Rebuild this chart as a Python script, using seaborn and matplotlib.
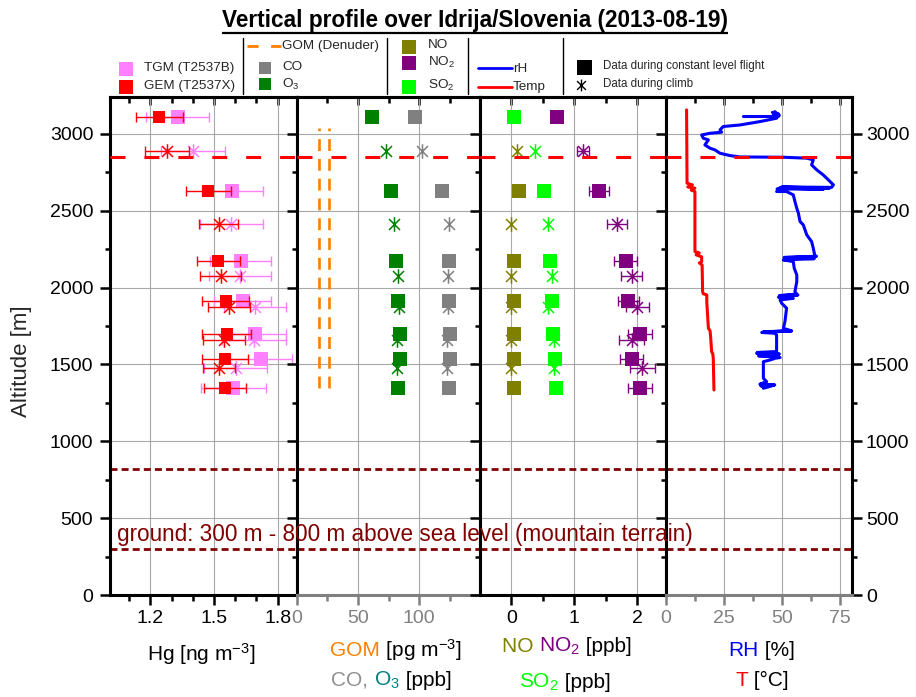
import numpy as np
import pandas as pd
import matplotlib
matplotlib.use("Agg")
import matplotlib.pyplot as plt
import seaborn as sns
from matplotlib.ticker import MultipleLocator
from matplotlib.path import Path

sns.set_theme(style="white")
plt.rcParams["font.family"] = ["Liberation Sans", "DejaVu Sans"]
plt.rcParams["mathtext.fontset"] = "custom"
plt.rcParams["mathtext.rm"] = "Liberation Sans"
plt.rcParams["mathtext.it"] = "Liberation Sans:italic"
plt.rcParams["mathtext.bf"] = "Liberation Sans:bold"

# ---------------- data ----------------
level_alt = [3108, 2631, 2173, 1915, 1696, 1536, 1349]
climb_alt = [2889, 2412, 2076, 1872, 1662, 1478]

tgm_level = [1.329, 1.587, 1.626, 1.635, 1.694, 1.721, 1.591]
tgm_level_err = [0.148, 0.144, 0.145, 0.136, 0.145, 0.145, 0.154]
gem_level = [1.243, 1.473, 1.520, 1.555, 1.560, 1.553, 1.553]
gem_level_err = [0.111, 0.107, 0.102, 0.110, 0.115, 0.108, 0.100]
tgm_climb = [1.402, 1.582, 1.623, 1.692, 1.689, 1.602]
tgm_climb_err = [0.150, 0.149, 0.148, 0.147, 0.150, 0.150]
gem_climb = [1.279, 1.523, 1.531, 1.571, 1.547, 1.523]
gem_climb_err = [0.104, 0.092, 0.098, 0.100, 0.100, 0.075]

gom_values = [18.0, 26.6]
gom_alt = [1350, 3040]
o3_level = [61.1, 77.3, 81.3, 82.9, 84.0, 84.0, 82.9]
co_level = [96.5, 118.3, 124.1, 124.1, 124.9, 124.9, 124.1]
o3_climb = [72.6, 79.2, 82.4, 83.2, 81.8, 81.6]
co_climb = [102.3, 124.4, 123.0, 123.6, 122.8, 122.3]

no_level = [np.nan, 0.116, 0.048, 0.048, 0.048, 0.048, 0.048]
no2_level = [0.727, 1.388, 1.812, 1.855, 2.04, 1.908, 2.04]
no2_level_err = [np.nan, 0.16, 0.18, 0.17, 0.19, 0.18, 0.19]
so2_level = [0.037, 0.514, 0.609, 0.636, 0.657, 0.684, 0.700]
no_climb = [0.09, 0.0, 0.0, 0.0, 0.0, 0.0]
no2_climb = [1.139, 1.68, 1.908, 1.998, 1.908, 2.077]
no2_climb_err = [0.10, 0.16, 0.17, 0.18, 0.20, 0.20]
so2_climb = [0.366, 0.583, 0.636, 0.577, 0.678, 0.678]

temp_alt = [3156, 2679, 2668, 2655, 2647, 2634, 2625, 2234, 2225, 2213, 2200, 2169,
            2160, 2147, 1974, 1960, 1952, 1909, 1735, 1720, 1692, 1583, 1570, 1540, 1334]
temp_val = [9.0, 9.2, 11.5, 9.5, 12.6, 11.0, 12.6, 12.6, 14.5, 13.1, 15.5, 15.5,
            14.5, 15.7, 15.9, 16.2, 17.7, 17.7, 18.4, 19.1, 19.3, 19.8, 20.3, 20.5, 20.8]

rh_alt = [3113, 3113, 3140, 3120, 3145, 3105, 3130, 3102, 3080, 3058, 3048, 3026, 3011,
          3004, 2993, 2972, 2961, 2928, 2907, 2896, 2874, 2859, 2850, 2848, 2842, 2831,
          2798, 2766, 2733, 2701, 2668, 2652, 2655, 2646, 2648, 2640, 2642, 2635, 2625,
          2625, 2603, 2560, 2516, 2484, 2430, 2408, 2343, 2299, 2256, 2200, 2196, 2204,
          2192, 2188, 2180, 2169, 2126, 2082, 2039, 1974, 1958, 1948, 1952, 1938, 1930,
          1920, 1898, 1866, 1779, 1735, 1720, 1712, 1718, 1708, 1703, 1692, 1584, 1578,
          1568, 1573, 1560, 1556, 1545, 1540, 1529, 1518, 1410, 1388, 1372, 1367, 1360,
          1364, 1345]
rh_val = [33.5, 48.6, 46.0, 49.0, 47.0, 46.0, 48.5, 47.8, 40.6, 32.0, 24.8, 23.4, 24.1,
          19.1, 15.5, 16.2, 18.4, 16.9, 19.1, 21.2, 23.4, 27.7, 32.0, 50.7, 60.8, 63.6,
          62.9, 65.1, 67.9, 70.1, 72.3, 71.5, 50.0, 70.5, 49.0, 68.0, 48.0, 49.3, 47.8,
          52.1, 55.0, 55.7, 56.5, 57.2, 57.9, 59.3, 60.8, 62.9, 63.6, 64.4, 51.0, 65.0,
          52.0, 64.0, 50.7, 55.0, 55.4, 56.5, 56.5, 55.7, 56.5, 49.0, 57.0, 48.6, 55.0,
          49.3, 50.0, 52.1, 51.4, 50.7, 54.0, 42.0, 54.3, 41.4, 47.0, 47.8, 47.8, 39.5,
          49.0, 39.2, 48.5, 40.0, 49.3, 47.1, 45.0, 42.1, 42.1, 43.5, 40.6, 47.0, 41.0,
          46.5, 42.1]

inversion_alt = 2850
ground_alt = [300, 820]

x_labels_p1 = [1.2, 1.5, 1.8]
# --------------------------------------

C_TGM = "#FF80FF"
C_GEM = "#FF0000"
C_CO = "#808080"
C_O3 = "#008000"
C_GOM = "#FF8000"
C_NO = "#808000"
C_NO2 = "#800080"
C_SO2 = "#00FF00"
C_RH = "#0000FF"
C_T = "#FF0000"
C_GROUND = "#800000"

# asterisk marker: vertical stroke plus an X
STAR = Path([(0, -1), (0, 1), (-0.75, -0.75), (0.75, 0.75), (-0.75, 0.75), (0.75, -0.75)],
            [Path.MOVETO, Path.LINETO, Path.MOVETO, Path.LINETO, Path.MOVETO, Path.LINETO])

W, H = 916, 697
fig = plt.figure(figsize=(W / 100, H / 100), dpi=100)


def px_axes(x0, x1, y0=97, y1=595):
    return fig.add_axes([x0 / W, 1 - y1 / H, (x1 - x0) / W, (y1 - y0) / H])


def style(ax, xlim, major, minor, fmt, bottomcolor="black"):
    ax.set_xlim(xlim)
    ax.set_ylim(0, 3240)
    ax.set_xticks(major)
    ax.set_xticklabels([fmt(v) for v in major])
    ax.set_xticks(minor, minor=True)
    ax.yaxis.set_major_locator(MultipleLocator(500))
    ax.yaxis.set_minor_locator(MultipleLocator(250))
    for s in ax.spines.values():
        s.set_visible(True)
        s.set_linewidth(2.2)
        s.set_color("black")
    ax.spines["bottom"].set_color(bottomcolor)
    ax.tick_params(axis="x", which="both", direction="out", bottom=True, top=False,
                   colors=bottomcolor, labelsize=14, width=1.8, pad=4)
    ax.tick_params(axis="x", which="major", length=7)
    ax.tick_params(axis="x", which="minor", length=4)
    ax.tick_params(axis="y", which="both", direction="out", left=True, right=True,
                   labelleft=False, labelright=False, width=1.8, colors="black",
                   labelsize=14)
    ax.tick_params(axis="y", which="major", length=7)
    ax.tick_params(axis="y", which="minor", length=3.6)
    ax.grid(True, which="major", color="#A8A8A8", lw=0.8)
    ax.set_axisbelow(True)
    top = ax.secondary_xaxis("top")
    top.set_xticks(major)
    top.set_xticks(minor, minor=True)
    top.tick_params(axis="x", which="both", direction="in", labeltop=False,
                    width=1.8, colors="black")
    top.tick_params(axis="x", which="major", length=6)
    top.tick_params(axis="x", which="minor", length=4)
    top.spines["top"].set_linewidth(2.2)
    ax.axhline(inversion_alt, color="#FF0000", lw=2.2, ls=(0, (4.9, 6.2)), zorder=8)
    for g in ground_alt:
        ax.axhline(g, color=C_GROUND, lw=2.0, ls=(0, (2.5, 1.5)), zorder=2)
    ax.set_xlabel("")
    ax.set_ylabel("")


ax1 = px_axes(110, 296.7)
ax2 = px_axes(296.7, 480)
ax3 = px_axes(480, 665.7)
ax4 = px_axes(665.7, 852)

eb = dict(fmt="none", elinewidth=1.0, capsize=3.5, capthick=1.0)
st = dict(ls="none", marker=STAR, ms=10.5, mew=1.1)

# ---- panel 1: Hg ----
ax1.errorbar(tgm_level, level_alt, xerr=tgm_level_err, ecolor=C_TGM, zorder=3, **eb)
ax1.errorbar(tgm_climb, climb_alt, xerr=tgm_climb_err, ecolor=C_TGM, zorder=3, **eb)
sns.scatterplot(x=tgm_level, y=level_alt, marker="s", s=112, color=C_TGM,
                linewidth=0, ax=ax1, zorder=4, legend=False)
ax1.plot(tgm_climb, climb_alt, color=C_TGM, zorder=4, **st)
ax1.errorbar(gem_level, level_alt, xerr=gem_level_err, ecolor=C_GEM, zorder=5, **eb)
ax1.errorbar(gem_climb, climb_alt, xerr=gem_climb_err, ecolor=C_GEM, zorder=5, **eb)
sns.scatterplot(x=gem_level, y=level_alt, marker="s", s=85, color=C_GEM,
                linewidth=0, ax=ax1, zorder=6, legend=False)
ax1.plot(gem_climb, climb_alt, color=C_GEM, zorder=6, **st)
style(ax1, (1.01, 1.89), x_labels_p1, [1.1, 1.3, 1.4, 1.6, 1.7], lambda v: f"{v:.1f}")
ax1.tick_params(axis="y", labelleft=True, pad=5)

# ---- panel 2: GOM, CO, O3 ----
for g in gom_values:
    ax2.plot([g, g], gom_alt, color=C_GOM, lw=1.9, ls=(0, (4.5, 3.0)), zorder=3)
sns.scatterplot(x=co_level, y=level_alt, marker="s", s=100, color=C_CO,
                linewidth=0, ax=ax2, zorder=4, legend=False)
sns.scatterplot(x=o3_level, y=level_alt, marker="s", s=100, color=C_O3,
                linewidth=0, ax=ax2, zorder=4, legend=False)
ax2.plot(co_climb, climb_alt, color=C_CO, zorder=4, **st)
ax2.plot(o3_climb, climb_alt, color=C_O3, zorder=4, **st)
style(ax2, (0, 149.5), [0, 50, 100], [25, 75, 125], lambda v: f"{v:d}", bottomcolor="#808080")

# ---- panel 3: NO, NO2, SO2 ----
ax3.errorbar(no2_level, level_alt, xerr=no2_level_err, ecolor=C_NO2, zorder=3, **eb)
ax3.errorbar(no2_climb, climb_alt, xerr=no2_climb_err, ecolor=C_NO2, zorder=3, **eb)
sns.scatterplot(x=no_level, y=level_alt, marker="s", s=100, color=C_NO,
                linewidth=0, ax=ax3, zorder=4, legend=False)
sns.scatterplot(x=no2_level, y=level_alt, marker="s", s=100, color=C_NO2,
                linewidth=0, ax=ax3, zorder=4, legend=False)
sns.scatterplot(x=so2_level, y=level_alt, marker="s", s=100, color=C_SO2,
                linewidth=0, ax=ax3, zorder=5, legend=False)
ax3.plot(no_climb, climb_alt, color=C_NO, zorder=4, **st)
ax3.plot(no2_climb, climb_alt, color=C_NO2, zorder=4, **st)
ax3.plot(so2_climb, climb_alt, color=C_SO2, zorder=4, **st)
style(ax3, (-0.5, 2.45), [0, 1, 2], [0.5, 1.5], lambda v: f"{v:d}")

# ---- panel 4: RH, T ----
df_rh = pd.DataFrame({"rh": rh_val, "alt": rh_alt})
df_t = pd.DataFrame({"t": temp_val, "alt": temp_alt})
sns.lineplot(data=df_rh, x="rh", y="alt", sort=False, estimator=None, orient="y",
             color=C_RH, lw=2.2, ax=ax4, zorder=4)
sns.lineplot(data=df_t, x="t", y="alt", sort=False, estimator=None, orient="y",
             color=C_T, lw=2.2, ax=ax4, zorder=4)
style(ax4, (0, 80.3), [0, 25, 50, 75], [12.5, 37.5, 62.5], lambda v: f"{v:d}",
      bottomcolor="#808080")
ax4.tick_params(axis="y", labelright=True, pad=3)

# ---------------- overlay for text / legend ----------------
ov = fig.add_axes([0, 0, 1, 1], zorder=20)
ov.set_xlim(0, W)
ov.set_ylim(H, 0)
ov.axis("off")
ov.patch.set_visible(False)
R = fig.canvas.get_renderer()


def rich(xc, y, parts, size):
    ts = [ov.text(0, y, s, color=c, fontsize=size, ha="left", va="baseline") for s, c in parts]
    ws = [t.get_window_extent(R).width for t in ts]
    x = xc - sum(ws) / 2
    for t, w in zip(ts, ws):
        t.set_x(x)
        x += w


def fit_text(x0, y, s, target_w, size, **kw):
    t = ov.text(x0, y, s, fontsize=size, ha="left", va="baseline", **kw)
    w = t.get_window_extent(R).width
    t.set_fontsize(size * target_w / w)
    return t


tt = fit_text(222, 27.5, "Vertical profile over Idrija/Slovenia (2013-08-19)", 508, 16,
              fontweight="bold", color="black")
bb = tt.get_window_extent(R)
ov.plot([bb.x0, bb.x1], [32.5, 32.5], color="black", lw=1.6, solid_capstyle="butt")

ov.text(22, 361, "Altitude [m]", rotation=90, ha="center", va="center", fontsize=16)

fit_text(117, 541, "ground: 300 m - 800 m above sea level (mountain terrain)", 578, 15,
         color=C_GROUND)

rich(201.5, 661, [("Hg [ng m$^{-3}$]", "black")], 15)
rich(396, 656.5, [("GOM", C_GOM), (" [pg m$^{-3}$]", "black")], 15)
rich(391.5, 686, [("CO, ", "#909090"), ("O$_3$", "#008080"), (" [ppb]", "black")], 15)
rich(566.7, 651.5, [("NO ", C_NO), ("NO$_2$", C_NO2), (" [ppb]", "black")], 15)
rich(565, 688, [("SO$_2$", C_SO2), (" [ppb]", "black")], 15)
rich(761.7, 655.5, [("RH", C_RH), (" [%]", "black")], 15)
rich(762, 686.5, [("T", C_T), (" [°C]", "black")], 15)

LFS = 9.7
for xs in [242.5, 387.3, 468.3, 562.7]:
    ov.plot([xs, xs], [38, 94], color="black", lw=1.0)


def leg_sq(x, y, c, ms=9.5):
    ov.plot([x], [y], ls="none", marker="s", ms=ms, color=c, mew=0)


def leg_txt(x, y, s):
    ov.text(x, y, s, fontsize=LFS, ha="left", va="center")


leg_sq(125.8, 68.8, C_TGM, 10.5)
leg_txt(144, 68.5, "TGM (T2537B)")
leg_sq(125.8, 87.2, C_GEM, 10.5)
leg_txt(144, 86.5, "GEM (T2537X)")

ov.plot([247, 281], [45.7, 45.7], color=C_GOM, lw=2.0, ls=(0, (4.0, 4.5)))
leg_txt(281.7, 45.5, "GOM (Denuder)")
leg_sq(264.8, 67.5, C_CO, 8.8)
leg_txt(282, 67.5, "CO")
leg_sq(264.8, 83.7, C_O3, 8.8)
leg_txt(282, 84, "O$_3$")

leg_sq(409, 47, C_NO, 10.5)
leg_txt(428, 45.5, "NO")
leg_sq(409, 63.3, C_NO2, 10.5)
leg_txt(428, 62.5, "NO$_2$")
leg_sq(409, 86.7, C_SO2, 10.5)
leg_txt(428, 85.5, "SO$_2$")

ov.plot([478, 512], [68.3, 68.3], color=C_RH, lw=2.0)
leg_txt(513, 69, "rH")
ov.plot([478, 512], [86.7, 86.7], color=C_T, lw=2.0)
leg_txt(513, 87, "Temp")

leg_sq(584, 66.7, "black", 10.8)
ov.text(603.3, 66.5, "Data during constant level flight", fontsize=8.3, ha="left", va="center")
ov.plot([581], [84.5], ls="none", marker=STAR, ms=8.5, mew=1.0, color="black")
ov.text(603.3, 83.5, "Data during climb", fontsize=8.3, ha="left", va="center")

fig.savefig("out.png", dpi=100)
